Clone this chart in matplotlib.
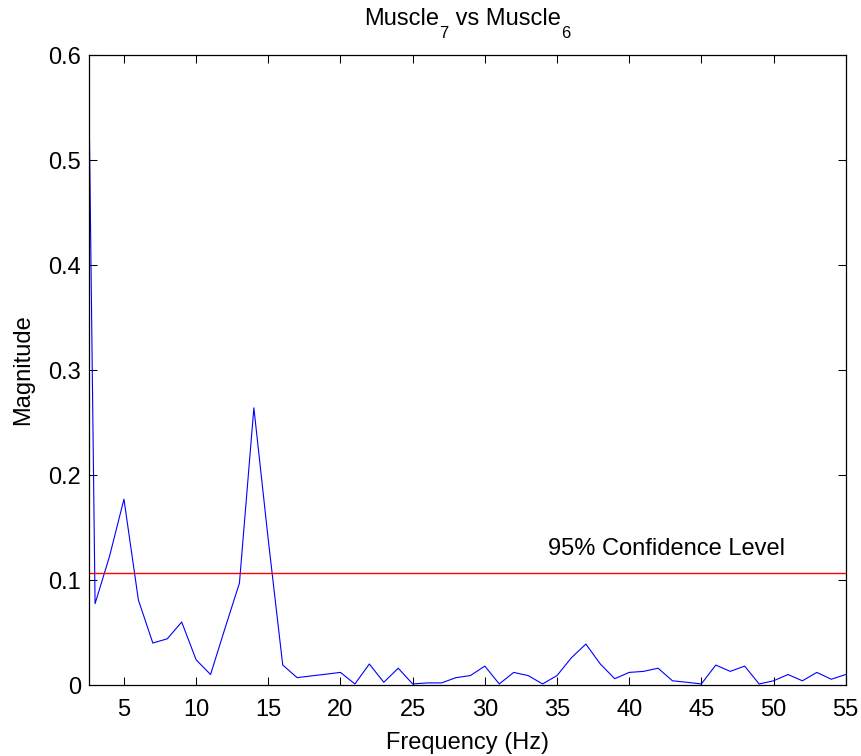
import numpy as np
import matplotlib
matplotlib.use('Agg')
import matplotlib.pyplot as plt

plt.rcParams['font.family'] = ['Liberation Sans', 'DejaVu Sans']

# coherence magnitude, one value per Hz
freqs = np.arange(2, 56)
magnitude = [1.22, 0.0775, 0.1225, 0.177, 0.081, 0.040, 0.044, 0.060, 0.024, 0.010,
             0.054, 0.097, 0.264, 0.138, 0.019, 0.007, 0.0087, 0.0103, 0.012, 0.001,
             0.020, 0.0026, 0.016, 0.001, 0.002, 0.002, 0.007, 0.009, 0.018, 0.001,
             0.012, 0.009, 0.001, 0.009, 0.026, 0.039, 0.020, 0.006, 0.012, 0.013,
             0.016, 0.004, 0.0026, 0.001, 0.019, 0.013, 0.018, 0.001, 0.004, 0.010,
             0.004, 0.012, 0.0055, 0.010]
conf_level = 0.1064
conf_label = '95% Confidence Level'
# title pieces: (text, is subscript)
title_parts = [('Muscle', False), ('7', True), (' vs Muscle', False), ('6', True)]

fig = plt.figure(figsize=(8.62, 7.56), dpi=100)
ax = fig.add_axes([0.1036, 0.0939, 0.8775, 0.8333])

ax.plot(freqs, magnitude, color='blue', lw=0.8)
ax.axhline(conf_level, color='#ff0000', lw=1.0)
ax.text(34.4, 0.13, conf_label, fontsize=17, va='center', ha='left')

ax.set_xlim(2.6, 55)
ax.set_ylim(0, 0.6)
ax.set_xticks([5, 10, 15, 20, 25, 30, 35, 40, 45, 50, 55])
ax.set_yticks([0, 0.1, 0.2, 0.3, 0.4, 0.5, 0.6])
ax.set_yticklabels(['0', '0.1', '0.2', '0.3', '0.4', '0.5', '0.6'])
ax.tick_params(direction='in', top=True, right=True, length=5.5, width=0.75,
               labelsize=17, pad=6)
ax.tick_params(axis='x', pad=10)
for s in ax.spines.values():
    s.set_linewidth(0.9)

ax.set_xlabel('Frequency (Hz)', fontsize=17, labelpad=8)
ax.set_ylabel('Magnitude', fontsize=17, labelpad=10)

# title with dropped subscripts, laid out piece by piece
renderer = fig.canvas.get_renderer()
W, H = fig.get_size_inches() * fig.dpi
texts = []
for txt, sub in title_parts:
    t = fig.text(0, 0, txt, fontsize=12 if sub else 17, va='baseline', ha='left')
    texts.append((t, sub))
widths = [t.get_window_extent(renderer).width for t, _ in texts]
x = (89.3 + 378) - sum(widths) / 2
for (t, sub), w in zip(texts, widths):
    t.set_position((x / W, 1 - (38 if sub else 25) / H))
    x += w

fig.savefig('out.png', dpi=100)
